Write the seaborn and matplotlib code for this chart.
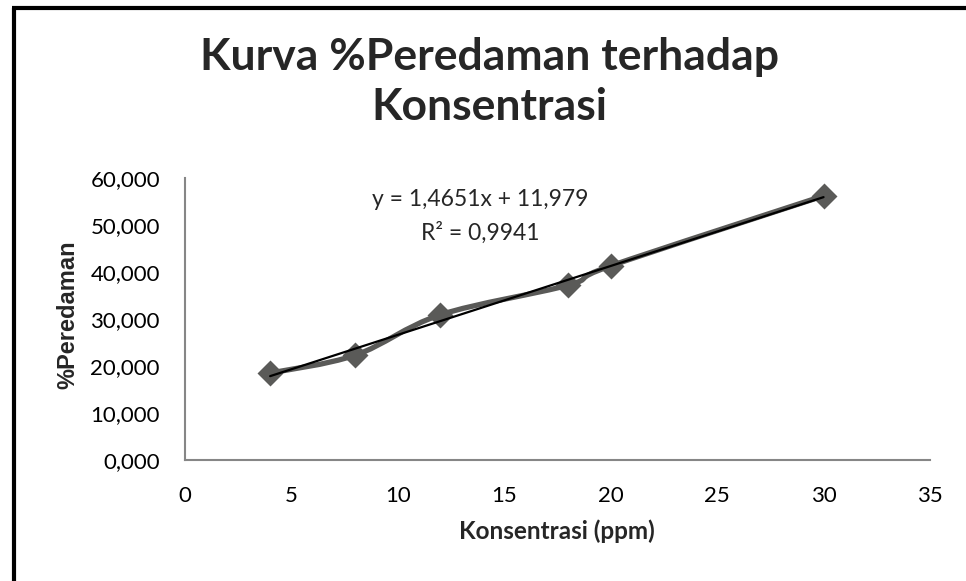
import numpy as np
import pandas as pd
import matplotlib
matplotlib.use("Agg")
import matplotlib.pyplot as plt
import seaborn as sns
from matplotlib.path import Path
from matplotlib.patches import PathPatch
from matplotlib.lines import Line2D
from matplotlib.ticker import FuncFormatter

# Data: concentration (ppm) vs. % inhibition
konsentrasi = [4, 8, 12, 18, 20, 30]
peredaman = [18.5, 22.3, 30.9, 37.2, 41.3, 56.2]

# Linear trendline reported on the chart
slope = 1.4651
intercept = 11.979
r_squared = 0.9941

x_ticks = [0, 5, 10, 15, 20, 25, 30, 35]
y_ticks = [0, 10, 20, 30, 40, 50, 60]

title = "Kurva %Peredaman terhadap\nKonsentrasi"
x_label = "Konsentrasi (ppm)"
y_label = "%Peredaman"

sns.set_theme(style="white")
plt.rcParams["font.family"] = ["Lato", "DejaVu Sans"]

df = pd.DataFrame({"x": konsentrasi, "y": peredaman})

fig = plt.figure(figsize=(9.66, 5.81), dpi=100)
fig.patch.set_facecolor("white")
ax = fig.add_axes([0.1915, 0.2083, 0.7712, 0.4853])
ax.set_facecolor("none")

series_color = "#5a5a58"

# Smoothed connecting line (cubic Bezier segments through the data points)
pts = np.column_stack([konsentrasi, peredaman]).astype(float)
ext = np.vstack([pts[0], pts, pts[-1]])
verts = [tuple(pts[0])]
codes = [Path.MOVETO]
for i in range(1, len(ext) - 2):
    p0, p1, p2, p3 = ext[i - 1], ext[i], ext[i + 1], ext[i + 2]
    c1 = p1 + (p2 - p0) / 6.0
    c2 = p2 - (p3 - p1) / 6.0
    verts += [tuple(c1), tuple(c2), tuple(p2)]
    codes += [Path.CURVE4, Path.CURVE4, Path.CURVE4]
ax.add_patch(PathPatch(Path(verts, codes), facecolor="none",
                       edgecolor=series_color, lw=3.8, zorder=2,
                       capstyle="round", joinstyle="round"))

# Diamond markers
sns.scatterplot(data=df, x="x", y="y", marker="D", s=175, color=series_color,
                edgecolor=series_color, linewidth=0, ax=ax, zorder=3)

# Linear trendline from the stated equation
trend = pd.DataFrame({"x": [min(konsentrasi), max(konsentrasi)]})
trend["y"] = slope * trend["x"] + intercept
sns.lineplot(data=trend, x="x", y="y", color="black", lw=1.6, ax=ax, zorder=4)

ax.set_xlim(0, 35)
ax.set_ylim(0, 60)
ax.set_xticks(x_ticks)
ax.set_yticks(y_ticks)
ax.yaxis.set_major_formatter(FuncFormatter(lambda v, _: f"{v:.3f}".replace(".", ",")))
ax.xaxis.set_major_formatter(FuncFormatter(lambda v, _: f"{v:g}"))

for side in ["top", "right"]:
    ax.spines[side].set_visible(False)
for side in ["left", "bottom"]:
    ax.spines[side].set_color("#868686")
    ax.spines[side].set_linewidth(1.5)
ax.tick_params(axis="both", direction="out", length=6, width=1.5,
               color="#868686", labelsize=16, labelcolor="black")
ax.tick_params(axis="y", pad=12)
ax.tick_params(axis="x", pad=13)

ax.set_xlabel("")
ax.set_ylabel("")
fig.text(0.5766, 0.085, x_label, ha="center", va="center",
         fontsize=17.5, fontweight="bold")
fig.text(0.070, 0.458, y_label, ha="center", va="center", rotation=90,
         fontsize=17, fontweight="bold", family=["Liberation Sans"])

fig.text(0.507, 0.859, title, ha="center", va="center", fontsize=32,
         fontweight="bold", linespacing=1.3)

ax.text(0.4969, 0.6558, f"y = {slope:.4f}x + {intercept:.3f}".replace(".", ","),
        transform=fig.transFigure, ha="center", va="center", fontsize=16.5)
ax.text(0.4969, 0.599, f"R² = {r_squared:.4f}".replace(".", ","),
        transform=fig.transFigure, ha="center", va="center", fontsize=16.5)

# Frame lines along the left and top edges
fig.add_artist(Line2D([0.0145, 0.0145], [0.0, 0.9855], color="black", lw=3,
                      transform=fig.transFigure, solid_capstyle="butt"))
fig.add_artist(Line2D([0.0129, 1.0], [0.9855, 0.9855], color="black", lw=3,
                      transform=fig.transFigure, solid_capstyle="butt"))

fig.savefig("out.png", dpi=100, facecolor="white")
